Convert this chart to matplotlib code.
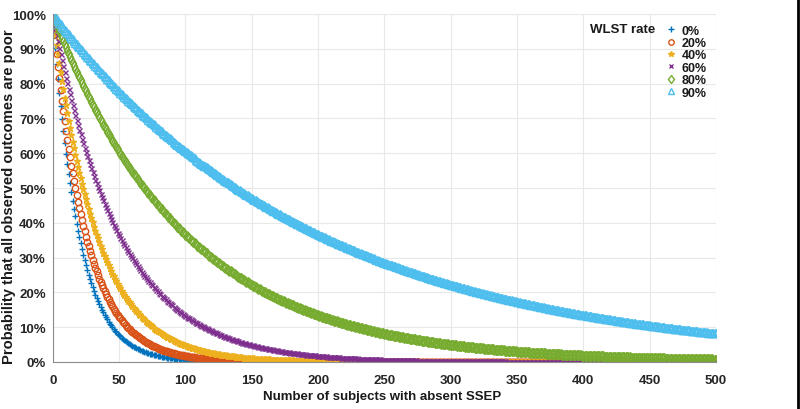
import numpy as np
import matplotlib
matplotlib.use("Agg")
import matplotlib.pyplot as plt
from matplotlib.lines import Line2D

# --- data ---------------------------------------------------------------
wlst_labels = ["0%", "20%", "40%", "60%", "80%", "90%"]
wlst_rates = [0.0, 0.2, 0.4, 0.6, 0.8, 0.9]
false_positive_rate = 0.05          # (90% curve ends near 8%)
n_subjects = np.arange(0, 501)      # x categories 0..500
x_ticks = [0, 50, 100, 150, 200, 250, 300, 350, 400, 450, 500]
y_ticks = [0, 10, 20, 30, 40, 50, 60, 70, 80, 90, 100]
y_tick_labels = [f"{v}%" for v in y_ticks]

colors = ["#0072BD", "#D95319", "#EDB120", "#7E2F8E", "#77AC30", "#4DBEEE"]
markers = ["+", "o", "*", "x", "d", "^"]
sizes = [5, 4.6, 5, 3.6, 5, 5.6]

plt.rcParams["font.family"] = ["Liberation Sans", "DejaVu Sans"]
plt.rcParams["font.weight"] = "bold"

fig = plt.figure(figsize=(8, 4.1), dpi=100)
ax = fig.add_axes([0.066, 0.115, 0.829, 0.848])

for lab, r, c, m, s in zip(wlst_labels, wlst_rates, colors, markers, sizes):
    escape = false_positive_rate * (1 - r)
    prob = 100 * (1 - escape) ** n_subjects
    ax.plot(n_subjects, prob, linestyle="none", marker=m, markersize=s,
            markerfacecolor=(c if m == "*" else "none"), markeredgecolor=c,
            markeredgewidth=1.0, label=lab)

ax.set_xlim(0, 500)
ax.set_ylim(0, 100)
ax.set_xticks(x_ticks)
ax.set_yticks(y_ticks)
ax.set_yticklabels(y_tick_labels)
ax.tick_params(axis="both", labelsize=9.5, length=0, colors="#262626")
ax.tick_params(axis="x", pad=9)
ax.tick_params(axis="y", pad=5)
for t in ax.get_xticklabels() + ax.get_yticklabels():
    t.set_fontweight("bold")
ax.grid(True, color="#e8e8e8", linewidth=0.8)
ax.set_axisbelow(True)
for side in ["top", "right"]:
    ax.spines[side].set_visible(False)
for side in ["left", "bottom"]:
    ax.spines[side].set_color("#8c8c8c")
    ax.spines[side].set_linewidth(0.8)

ax.set_xlabel("Number of subjects with absent SSEP", fontsize=9.5,
              fontweight="bold", color="#1a1a1a")
ax.xaxis.set_label_coords(0.496, -0.08)
ax.set_ylabel("Probability that all observed outcomes are poor", fontsize=10.6,
              fontweight="bold", color="#1a1a1a")
ax.yaxis.set_label_coords(-0.055, 0.478)

leg = ax.legend(loc="upper right", bbox_to_anchor=(1.0, 0.995), frameon=False,
                fontsize=9, handlelength=0.8, handletextpad=0.5,
                labelspacing=0.03, borderaxespad=0.3, markerscale=0.85)
for t in leg.get_texts():
    t.set_fontweight("bold")
    t.set_color("#1a1a1a")
ax.text(0.908, 0.957, "WLST rate", transform=ax.transAxes, fontsize=9.5,
        fontweight="bold", ha="right", va="center", color="#1a1a1a")

fig.add_artist(Line2D([0.9975, 0.9975], [0, 1], transform=fig.transFigure,
                      color="black", linewidth=2))

fig.savefig("out.png", dpi=100)
